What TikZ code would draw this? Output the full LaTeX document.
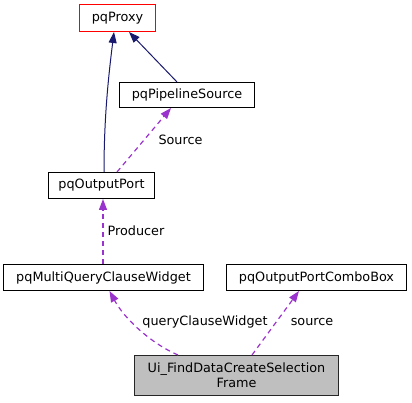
\documentclass[tikz,border=0pt]{standalone}
\usepackage{fontspec}
\setmainfont{DejaVu Sans}
\usepackage{xcolor}
\usepackage{tikz}
\usetikzlibrary{arrows.meta,positioning,calc}

\definecolor{edgenavy}{HTML}{191970}
\definecolor{edgeorchid}{HTML}{9A32CD}
\definecolor{framegray}{HTML}{BFBFBF}
\definecolor{rootred}{HTML}{FF0000}

\begin{document}
\begin{tikzpicture}[
  x=1pt,
  y=-1pt,
  font=\fontsize{12.8}{15}\selectfont,
  >={Triangle[length=11pt,width=8pt]},
  klass/.style={draw=black, line width=1pt, fill=white, minimum height=26pt,
    inner xsep=0pt, inner ysep=2pt, align=center},
  rootklass/.style={klass, draw=rootred},
  current/.style={klass, fill=framegray, draw=black!85},
  inherit/.style={->, line width=1pt, draw=edgenavy},
  member/.style={->, line width=1.2pt, draw=edgeorchid,
    dash pattern=on 5pt off 4pt},
  tag/.style={inner sep=1pt}
]
\useasboundingbox (0,0) rectangle (412,403);

% Classes of the collaboration graph.
\node[rootklass, minimum width=76pt, minimum height=27pt] (proxy)
  at (117.5,18) {pqProxy};
\node[klass, minimum width=135pt, minimum height=25pt] (pipeline)
  at (187,95) {pqPipelineSource};
\node[klass, minimum width=106pt] (outport) at (101.5,185.5) {pqOutputPort};
\node[klass, minimum width=200pt] (multiquery) at (103.5,277.5)
  {pqMultiQueryClauseWidget};
\node[klass, minimum width=180pt] (combobox) at (316.5,277.5)
  {pqOutputPortComboBox};
\node[current, minimum width=204pt, minimum height=40pt] (frame)
  at (236.5,375.5) {Ui\_FindDataCreateSelection\\Frame};

% Inheritance.
\draw[inherit] ([xshift=2.5pt]outport.north) .. controls (104,120) and (108,80)
  .. ([xshift=-3.5pt]proxy.south);
\draw[inherit] ([xshift=-10pt]pipeline.north) -- ([xshift=11.5pt]proxy.south);

% Usage relations.
\draw[member] ([xshift=15.5pt]outport.north) -- ([xshift=-16pt]pipeline.south);
\node[tag] (lsource) at (180.5,140) {Source};
\draw[member] ([xshift=-0.5pt]multiquery.north)
  -- ([xshift=1.5pt]outport.south);
\node[tag] (lproducer) at (136,231) {Producer};
\draw[member] ([xshift=-58.5pt]frame.north) .. controls (150,343) and (124,318)
  .. ([xshift=6pt]multiquery.south);
\node[tag] (lquery) at (205,322) {queryClauseWidget};
\draw[member] ([xshift=15.5pt]frame.north) -- ([xshift=-17.5pt]combobox.south);
\node[tag] (lcombo) at (312,322) {source};

\end{tikzpicture}
\end{document}
